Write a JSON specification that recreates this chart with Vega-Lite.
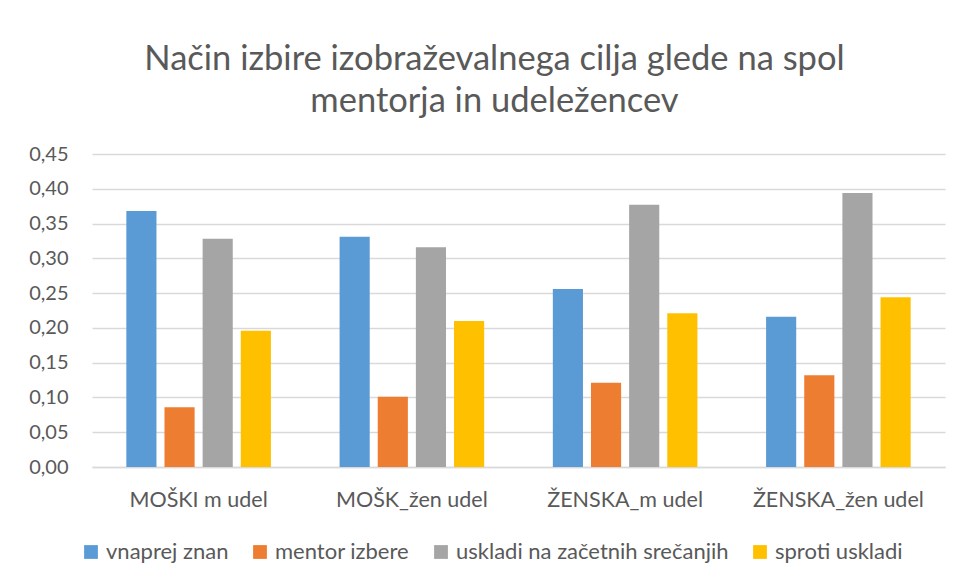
{
  "$schema": "https://vega.github.io/schema/vega-lite/v6.json",
  "width": 853,
  "height": 313,
  "autosize": {"type": "none"},
  "padding": {"left": 92, "top": 154, "right": 18, "bottom": 117},
  "background": "white",
  "title": {
    "text": ["Način izbire izobraževalnega cilja glede na spol", "mentorja in udeležencev"],
    "font": "Lato",
    "fontSize": 34.5,
    "fontWeight": "normal",
    "color": "#595959",
    "lineHeight": 42,
    "dx": -24,
    "offset": 25,
    "anchor": "middle"
  },
  "data": {
    "values": [
      {"skupina": "MOŠKI m udel", "nacin": "vnaprej znan", "vrednost": 0.368},
      {"skupina": "MOŠKI m udel", "nacin": "mentor izbere", "vrednost": 0.086},
      {"skupina": "MOŠKI m udel", "nacin": "uskladi na začetnih srečanjih", "vrednost": 0.328},
      {"skupina": "MOŠKI m udel", "nacin": "sproti uskladi", "vrednost": 0.196},
      {"skupina": "MOŠK_žen udel", "nacin": "vnaprej znan", "vrednost": 0.331},
      {"skupina": "MOŠK_žen udel", "nacin": "mentor izbere", "vrednost": 0.101},
      {"skupina": "MOŠK_žen udel", "nacin": "uskladi na začetnih srečanjih", "vrednost": 0.316},
      {"skupina": "MOŠK_žen udel", "nacin": "sproti uskladi", "vrednost": 0.210},
      {"skupina": "ŽENSKA_m udel", "nacin": "vnaprej znan", "vrednost": 0.256},
      {"skupina": "ŽENSKA_m udel", "nacin": "mentor izbere", "vrednost": 0.121},
      {"skupina": "ŽENSKA_m udel", "nacin": "uskladi na začetnih srečanjih", "vrednost": 0.377},
      {"skupina": "ŽENSKA_m udel", "nacin": "sproti uskladi", "vrednost": 0.221},
      {"skupina": "ŽENSKA_žen udel", "nacin": "vnaprej znan", "vrednost": 0.216},
      {"skupina": "ŽENSKA_žen udel", "nacin": "mentor izbere", "vrednost": 0.132},
      {"skupina": "ŽENSKA_žen udel", "nacin": "uskladi na začetnih srečanjih", "vrednost": 0.394},
      {"skupina": "ŽENSKA_žen udel", "nacin": "sproti uskladi", "vrednost": 0.244}
    ]
  },
  "mark": {"type": "bar"},
  "encoding": {
    "x": {
      "field": "skupina",
      "type": "nominal",
      "sort": ["MOŠKI m udel", "MOŠK_žen udel", "ŽENSKA_m udel", "ŽENSKA_žen udel"],
      "scale": {"paddingInner": 0, "paddingOuter": 0},
      "axis": {
        "title": null,
        "labelAngle": 0,
        "labelFont": "Lato",
        "labelFontSize": 21.5,
        "labelColor": "#595959",
        "labelPadding": 22,
        "ticks": false,
        "domain": true,
        "domainColor": "#D9D9D9",
        "domainWidth": 1.5,
        "grid": false
      }
    },
    "xOffset": {
      "field": "nacin",
      "type": "nominal",
      "sort": ["vnaprej znan", "mentor izbere", "uskladi na začetnih srečanjih", "sproti uskladi"],
      "scale": {"paddingInner": 0.21, "paddingOuter": 0.9}
    },
    "y": {
      "field": "vrednost",
      "type": "quantitative",
      "scale": {"domain": [0, 0.45], "nice": false},
      "axis": {
        "title": null,
        "values": [0, 0.05, 0.1, 0.15, 0.2, 0.25, 0.3, 0.35, 0.4, 0.45],
        "labelExpr": "replace(format(datum.value, '.2f'), '.', ',')",
        "labelFont": "Lato",
        "labelFontSize": 20,
        "labelColor": "#595959",
        "labelPadding": 24,
        "ticks": false,
        "domain": false,
        "grid": true,
        "gridColor": "#D9D9D9",
        "gridWidth": 1.5
      }
    },
    "color": {
      "field": "nacin",
      "type": "nominal",
      "scale": {
        "domain": ["vnaprej znan", "mentor izbere", "uskladi na začetnih srečanjih", "sproti uskladi"],
        "range": ["#5B9BD5", "#ED7D31", "#A5A5A5", "#FFC000"]
      },
      "legend": {
        "title": null,
        "orient": "none",
        "legendX": -12,
        "legendY": 387,
        "direction": "horizontal",
        "symbolType": "square",
        "symbolSize": 190,
        "symbolStrokeWidth": 0,
        "labelFont": "Lato",
        "labelFontSize": 22,
        "labelColor": "#595959",
        "labelOffset": 4,
        "columnPadding": 20,
        "labelLimit": 400
      }
    }
  },
  "config": {
    "view": {"stroke": null}
  }
}
